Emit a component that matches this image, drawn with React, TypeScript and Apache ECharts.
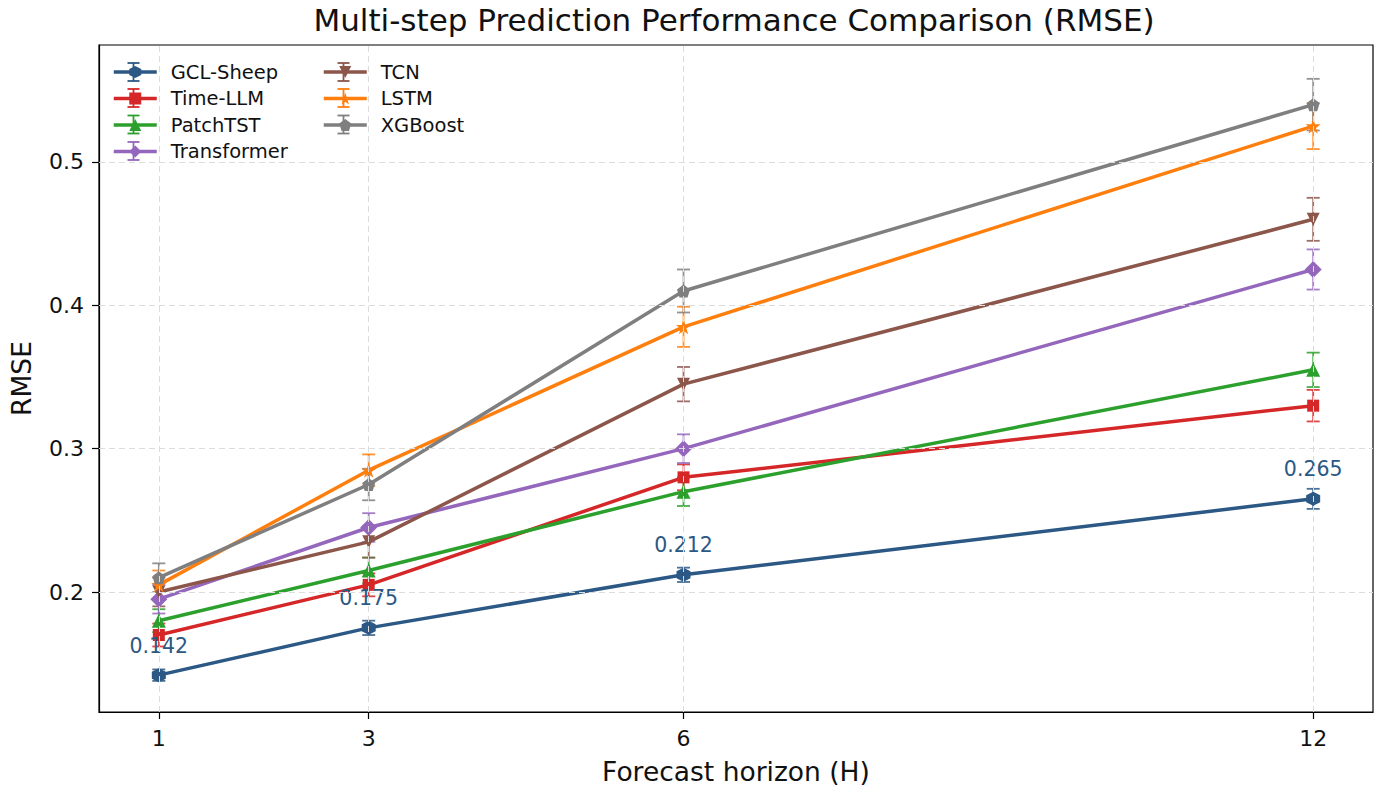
import React, { useEffect, useRef } from "react";
import * as echarts from "echarts";

const horizons = [1, 3, 6, 12];
const models = ["GCL-Sheep", "Time-LLM", "PatchTST", "Transformer", "TCN", "LSTM", "XGBoost"];
const gclSheep = [0.142, 0.175, 0.212, 0.265];
const gclSheepErr = [0.004, 0.005, 0.005, 0.007];
const timeLLM = [0.17, 0.205, 0.28, 0.33];
const timeLLMErr = [0.008, 0.008, 0.009, 0.011];
const patchTST = [0.18, 0.215, 0.27, 0.355];
const patchTSTErr = [0.008, 0.009, 0.01, 0.012];
const transformer = [0.195, 0.245, 0.3, 0.425];
const transformerErr = [0.01, 0.01, 0.01, 0.014];
const tcn = [0.2, 0.235, 0.345, 0.46];
const tcnErr = [0.01, 0.011, 0.012, 0.015];
const lstm = [0.205, 0.285, 0.385, 0.525];
const lstmErr = [0.01, 0.011, 0.014, 0.016];
const xgboost = [0.21, 0.275, 0.41, 0.54];
const xgboostErr = [0.01, 0.011, 0.015, 0.018];
const yTicks = [0.2, 0.3, 0.4, 0.5];

const values = [gclSheep, timeLLM, patchTST, transformer, tcn, lstm, xgboost];
const errors = [gclSheepErr, timeLLMErr, patchTSTErr, transformerErr, tcnErr, lstmErr, xgboostErr];
const colors = ["#2b5884", "#d62728", "#2ca02c", "#9467bd", "#8c564b", "#ff7f0e", "#7f7f7f"];
const symbols = [
  "path://M0,-1 L0.866,-0.5 L0.866,0.5 L0,1 L-0.866,0.5 L-0.866,-0.5 Z",
  "rect",
  "triangle",
  "diamond",
  "path://M0,0 L2,0 L1,1.8 Z",
  "path://M0,-1 L0.2245,-0.309 L0.951,-0.309 L0.363,0.118 L0.588,0.809 L0,0.382 L-0.588,0.809 L-0.363,0.118 L-0.951,-0.309 L-0.2245,-0.309 Z",
  "path://M0,-1 L0.951,-0.309 L0.588,0.809 L-0.588,0.809 L-0.951,-0.309 Z",
];
const symbolSizes = [14, 12, 14, 17, 13, 15, 13];

const FONT = "DejaVu Sans";

export default function App() {
  const ref = useRef<HTMLDivElement>(null);
  useEffect(() => {
    document.body.style.margin = "0";
    const chart = echarts.init(ref.current!, null, { renderer: "svg" });
    const series: any[] = [];
    series.push({
      type: "line",
      name: "grid",
      data: [],
      silent: true,
      z: 0,
      markLine: {
        silent: true,
        symbol: "none",
        label: { show: false },
        animation: false,
        lineStyle: { color: "#dcdcdc", type: [6, 4], width: 1 },
        data: [
          ...horizons.map((h) => ({ xAxis: h })),
          ...yTicks.map((t) => ({ yAxis: t })),
        ],
      },
    });
    models.forEach((m, i) => {
      series.push({
        type: "custom",
        name: m + "-err",
        z: 3,
        silent: true,
        itemStyle: { color: colors[i] },
        data: horizons.map((h, j) => [h, values[i][j], errors[i][j]]),
        encode: { x: 0, y: 1 },
        renderItem: (params: any, api: any) => {
          const x = api.value(0);
          const y = api.value(1);
          const e = api.value(2);
          const lo = api.coord([x, y - e]);
          const hi = api.coord([x, y + e]);
          const cap = 6.5;
          const style = { stroke: colors[i], lineWidth: 1.8, opacity: 0.85 };
          return {
            type: "group",
            children: [
              { type: "line", shape: { x1: lo[0], y1: lo[1], x2: hi[0], y2: hi[1] }, style },
              { type: "line", shape: { x1: lo[0] - cap, y1: lo[1], x2: lo[0] + cap, y2: lo[1] }, style },
              { type: "line", shape: { x1: hi[0] - cap, y1: hi[1], x2: hi[0] + cap, y2: hi[1] }, style },
            ],
          };
        },
      });
      series.push({
        type: "line",
        name: m,
        z: 4,
        data: horizons.map((h, j) => [h, values[i][j]]),
        symbol: symbols[i],
        symbolSize: symbolSizes[i],
        showAllSymbol: true,
        lineStyle: { color: colors[i], width: 3.5 },
        itemStyle: { color: colors[i] },
        label:
          i === 0
            ? {
                show: true,
                position: "top",
                distance: 12,
                color: colors[0],
                fontFamily: FONT,
                fontSize: 20.5,
                formatter: (p: any) => p.value[1].toFixed(3),
              }
            : { show: false },
      });
    });

    const legendCommon = {
      orient: "vertical",
      itemWidth: 43,
      itemHeight: 15,
      itemGap: 6.5,
      padding: 0,
      lineStyle: { width: 3.5 },
      textStyle: { fontFamily: FONT, fontSize: 19.5, color: "#111", padding: [0, 0, 0, 9] },
      backgroundColor: "transparent",
      selectedMode: false,
    };

    // decorative error-bar glyphs on the legend handles
    const legendBars: any[] = [];
    const rowY = [72, 98, 124.5, 151];
    models.forEach((m, i) => {
      const col = i < 4 ? 0 : 1;
      const row = i < 4 ? i : i - 4;
      const cx = col === 0 ? 133.5 : 343.5;
      const cy = rowY[row];
      const st = { stroke: colors[i], lineWidth: 1.8 };
      legendBars.push(
        { type: "line", z: 7, shape: { x1: cx, y1: cy - 9, x2: cx, y2: cy + 9 }, style: st },
        { type: "line", z: 7, shape: { x1: cx - 6, y1: cy - 9, x2: cx + 6, y2: cy - 9 }, style: st },
        { type: "line", z: 7, shape: { x1: cx - 6, y1: cy + 9, x2: cx + 6, y2: cy + 9 }, style: st }
      );
    });

    chart.setOption({
      animation: false,
      backgroundColor: "#fff",
      title: {
        text: "Multi-step Prediction Performance Comparison (RMSE)",
        left: 734,
        textAlign: "center",
        top: 4,
        padding: 0,
        textStyle: { fontFamily: FONT, fontSize: 31, fontWeight: "normal", color: "#111" },
      },
      graphic: [
        {
          type: "rect",
          left: 104,
          top: 52,
          shape: { width: 188, height: 107 },
          style: { fill: "rgba(255,255,255,0.9)" },
          z: 5,
        },
        ...legendBars,
      ],
      legend: [
        { ...legendCommon, left: 112, top: 62, data: models.slice(0, 4), z: 6 },
        { ...legendCommon, left: 322, top: 62, data: models.slice(4), z: 6 },
      ],
      grid: {
        left: 97,
        right: 10,
        top: 45,
        bottom: 83,
        show: true,
        borderColor: "#000",
        borderWidth: 1.2,
        backgroundColor: "transparent",
      },
      xAxis: {
        type: "value",
        min: 0.43,
        max: 12.57,
        name: "Forecast horizon (H)",
        nameLocation: "middle",
        nameGap: 46,
        nameTextStyle: { fontFamily: FONT, fontSize: 26.5, color: "#111" },
        axisLine: { show: true, lineStyle: { color: "#000", width: 1.2 } },
        axisTick: { show: true, inside: false, length: 7, lineStyle: { color: "#000", width: 1.2 }, customValues: horizons },
        axisLabel: { fontFamily: FONT, fontSize: 22, color: "#111", margin: 15, customValues: horizons },
        splitLine: { show: false },
      },
      yAxis: {
        type: "value",
        min: 0.1163,
        max: 0.5816,
        name: "RMSE",
        nameLocation: "middle",
        nameGap: 64,
        nameRotate: 90,
        nameTextStyle: { fontFamily: FONT, fontSize: 26.5, color: "#111" },
        axisLine: { show: true, lineStyle: { color: "#000", width: 1.2 } },
        axisTick: { show: true, inside: false, length: 7, lineStyle: { color: "#000", width: 1.2 }, customValues: yTicks },
        axisLabel: {
          fontFamily: FONT,
          fontSize: 22,
          color: "#111",
          margin: 15,
          customValues: yTicks,
          formatter: (v: number) => String(Math.round(v * 10) / 10),
        },
        splitLine: { show: false },
      },
      series,
    });
    return () => chart.dispose();
  }, []);
  return <div ref={ref} style={{ width: 1383, height: 795, position: "absolute", left: 0, top: 0 }} />;
}
